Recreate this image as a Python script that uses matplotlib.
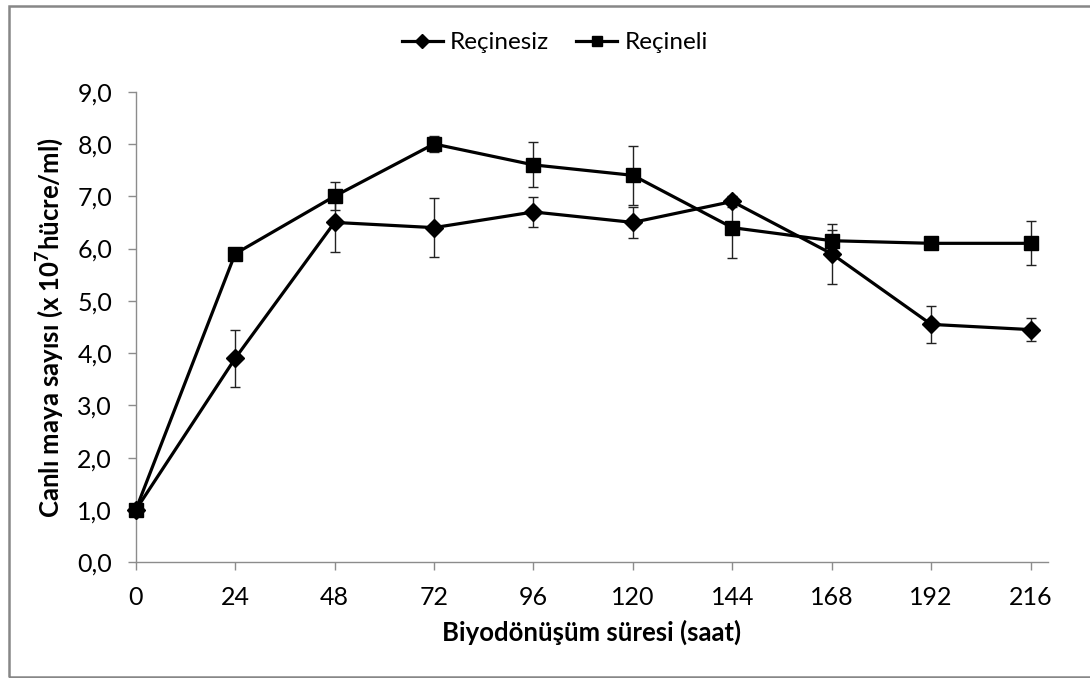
import matplotlib
matplotlib.use("Agg")
import matplotlib.pyplot as plt
from matplotlib.patches import Rectangle
from matplotlib.lines import Line2D
from matplotlib.ticker import FuncFormatter

plt.rcParams['font.family'] = ['Lato', 'DejaVu Sans']
plt.rcParams['mathtext.fontset'] = 'custom'
plt.rcParams['mathtext.rm'] = 'Lato'
plt.rcParams['mathtext.bf'] = 'Lato:bold'

hours = [0, 24, 48, 72, 96, 120, 144, 168, 192, 216]
recinesiz = [1.0, 3.9, 6.5, 6.4, 6.7, 6.5, 6.9, 5.9, 4.55, 4.45]
recinesiz_err = [0.0, 0.55, 0.57, 0.57, 0.28, 0.29, 0.1, 0.57, 0.36, 0.22]
recineli = [1.0, 5.9, 7.0, 8.0, 7.6, 7.4, 6.4, 6.15, 6.1, 6.1]
recineli_err = [0.0, 0.1, 0.27, 0.15, 0.43, 0.57, 0.58, 0.2, 0.05, 0.42]
y_ticks = [0, 1, 2, 3, 4, 5, 6, 7, 8, 9]

fig = plt.figure(figsize=(10.9, 6.78), dpi=100)
ax = fig.add_axes([0.1245, 0.1706, 0.8370, 0.6942])

err_kw = dict(ecolor='#222222', elinewidth=1.0, capsize=3.5, capthick=1.0)
st1 = dict(color='black', lw=2.3, marker='D', ms=9, mec='black', mfc='black', mew=1)
st2 = dict(color='black', lw=2.3, marker='s', ms=9.5, mec='black', mfc='black', mew=1)

for y, e, st in [(recinesiz, recinesiz_err, st1), (recineli, recineli_err, st2)]:
    cont = ax.errorbar(hours, y, yerr=e, zorder=3, **st, **err_kw)
    for art in cont.lines[0:1]:
        art.set_clip_on(False)

ax.set_xlim(0, 220.2)
ax.set_ylim(0, 9)
ax.set_xticks(hours)
ax.set_yticks(y_ticks)
ax.yaxis.set_major_formatter(FuncFormatter(lambda v, p: f"{v:.1f}".replace('.', ',')))

for s in ['top', 'right']:
    ax.spines[s].set_visible(False)
for s in ['left', 'bottom']:
    ax.spines[s].set_color('#8c8c8c')
    ax.spines[s].set_linewidth(1.0)
ax.tick_params(axis='both', direction='out', length=6, width=1, color='#8c8c8c',
               labelsize=18, labelcolor='black', pad=11)

ax.set_xlabel('Biyodönüşüm süresi (saat)', fontsize=18.5, fontweight='bold', labelpad=8)
ax.set_ylabel(r'Canlı maya sayısı (x 10$^{\mathbf{7}}$hücre/ml)', fontsize=18.5,
              fontweight='bold', labelpad=8)

h1 = Line2D([], [], **{**st1, 'ms': 7.5})
h2 = Line2D([], [], **{**st2, 'ms': 7.5})
fig.legend(handles=[h1, h2], labels=['Reçinesiz', 'Reçineli'],
           loc='center', bbox_to_anchor=(0.509, 0.937), ncol=2, frameon=False,
           fontsize=17.5, handlelength=1.7, handletextpad=0.3, columnspacing=1.1)

fig.patches.append(Rectangle((9/1090, 1/678), 1.2, 671/678, transform=fig.transFigure,
                             fill=False, edgecolor='#878787', lw=1.8, zorder=0))

fig.savefig('out.png', dpi=100)
